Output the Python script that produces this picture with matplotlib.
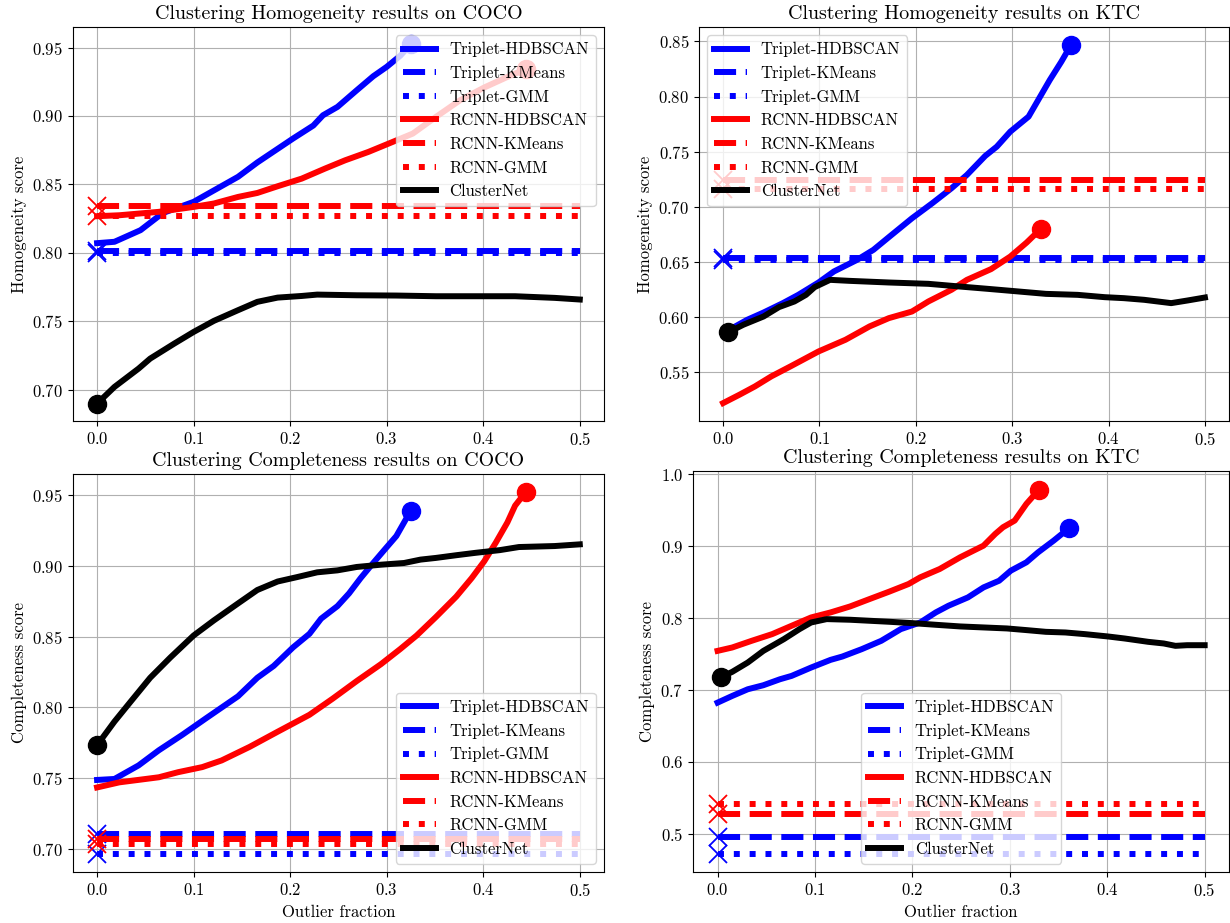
import matplotlib
matplotlib.use("Agg")
import matplotlib.pyplot as plt

plt.rcParams['font.family'] = 'serif'
plt.rcParams['font.serif'] = ['cmr10']
plt.rcParams['axes.formatter.use_mathtext'] = True
plt.rcParams['font.size'] = 12
plt.rcParams['axes.titlesize'] = 14.4
plt.rcParams['mathtext.fontset'] = 'cm'

labels = ['Triplet-HDBSCAN', 'Triplet-KMeans', 'Triplet-GMM',
          'RCNN-HDBSCAN', 'RCNN-KMeans', 'RCNN-GMM', 'ClusterNet']

# ---- Homogeneity, COCO
coco_h_trip_x = [0.0, 0.018, 0.045, 0.068, 0.1, 0.146, 0.166, 0.203, 0.224, 0.234, 0.249,
                 0.269, 0.286, 0.30, 0.314, 0.325]
coco_h_trip = [0.807, 0.808, 0.8165, 0.829, 0.8372, 0.8555, 0.866, 0.8835, 0.893, 0.9005, 0.9066,
               0.9188, 0.929, 0.9359, 0.944, 0.9524]
coco_h_rcnn_x = [0.0, 0.023, 0.064, 0.1, 0.121, 0.146, 0.166, 0.187, 0.212, 0.236, 0.257, 0.281,
                 0.302, 0.327, 0.351, 0.376, 0.401, 0.429, 0.444]
coco_h_rcnn = [0.8267, 0.8274, 0.8299, 0.8335, 0.836, 0.8408, 0.8437, 0.8486, 0.8542, 0.8615, 0.8676,
               0.8737, 0.8798, 0.8871, 0.8993, 0.9115, 0.9208, 0.9298, 0.9342]
coco_h_cnet_x = [0.0, 0.018, 0.043, 0.055, 0.08, 0.1, 0.121, 0.146, 0.166, 0.187, 0.212, 0.228,
                 0.269, 0.31, 0.351, 0.392, 0.433, 0.474, 0.5]
coco_h_cnet = [0.6897, 0.7019, 0.7153, 0.7226, 0.7336, 0.7421, 0.7502, 0.758, 0.7641, 0.7672, 0.7684,
               0.7694, 0.7689, 0.7687, 0.7682, 0.7682, 0.7682, 0.767, 0.7658]
coco_h_flat = [0.8012, 0.7995, 0.8340, 0.8265]  # trip-km, trip-gmm, rcnn-km, rcnn-gmm

# ---- Homogeneity, KTC
ktc_h_trip_x = [0.005, 0.025, 0.042, 0.062, 0.078, 0.099, 0.115, 0.139, 0.156, 0.172, 0.196, 0.217,
                0.237, 0.253, 0.272, 0.284, 0.298, 0.317, 0.327, 0.339, 0.351, 0.361]
ktc_h_trip = [0.5880, 0.5977, 0.6043, 0.6128, 0.6203, 0.6315, 0.6415, 0.652, 0.6611, 0.6726, 0.6897,
              0.7033, 0.7169, 0.729, 0.7462, 0.7546, 0.7682, 0.7818, 0.7969, 0.815, 0.8316, 0.8467]
ktc_h_rcnn_x = [0.0, 0.017, 0.033, 0.05, 0.07, 0.099, 0.127, 0.152, 0.172, 0.196, 0.213, 0.237,
                0.253, 0.278, 0.298, 0.315, 0.33]
ktc_h_rcnn = [0.5222, 0.5298, 0.5373, 0.5464, 0.5555, 0.569, 0.5796, 0.5917, 0.5992, 0.6052, 0.6143,
              0.6249, 0.6339, 0.6436, 0.655, 0.6677, 0.6804]
ktc_h_cnet_x = [0.005, 0.021, 0.042, 0.058, 0.074, 0.086, 0.095, 0.111, 0.131, 0.172, 0.213, 0.245,
                0.274, 0.294, 0.335, 0.368, 0.396, 0.416, 0.437, 0.465, 0.482, 0.5]
ktc_h_cnet = [0.5862, 0.5932, 0.6007, 0.6092, 0.6143, 0.6203, 0.6273, 0.6339, 0.633, 0.6315, 0.6303,
              0.6279, 0.6258, 0.6243, 0.6212, 0.6203, 0.6182, 0.6173, 0.6158, 0.6128, 0.6152, 0.6179]
ktc_h_flat = [0.6541, 0.6515, 0.7245, 0.7160]

# ---- Completeness, COCO
coco_c_trip_x = [0.0, 0.018, 0.043, 0.064, 0.088, 0.113, 0.146, 0.166, 0.183, 0.203, 0.22, 0.232,
                 0.249, 0.261, 0.273, 0.286, 0.298, 0.31, 0.318, 0.325]
coco_c_trip = [0.7487, 0.7494, 0.759, 0.7697, 0.7805, 0.7924, 0.8079, 0.821, 0.8294, 0.8425, 0.8521,
               0.8628, 0.8717, 0.8807, 0.8915, 0.9022, 0.9118, 0.9213, 0.9309, 0.9393]
coco_c_rcnn_x = [0.0, 0.023, 0.064, 0.084, 0.109, 0.129, 0.158, 0.187, 0.22, 0.244, 0.269, 0.294,
                 0.314, 0.331, 0.351, 0.372, 0.388, 0.401, 0.413, 0.425, 0.433, 0.444]
coco_c_rcnn = [0.7434, 0.747, 0.7506, 0.7542, 0.7578, 0.7625, 0.7721, 0.7828, 0.7948, 0.8062, 0.8187,
               0.8306, 0.8413, 0.8509, 0.864, 0.8784, 0.8915, 0.9034, 0.9166, 0.9309, 0.9428, 0.9524]
coco_c_cnet_x = [0.0, 0.018, 0.035, 0.055, 0.076, 0.1, 0.121, 0.146, 0.166, 0.187, 0.207, 0.228,
                 0.249, 0.269, 0.294, 0.318, 0.335, 0.351, 0.372, 0.392, 0.417, 0.437, 0.474, 0.5]
coco_c_cnet = [0.7733, 0.79, 0.8043, 0.821, 0.8354, 0.8509, 0.8616, 0.8736, 0.8831, 0.8891, 0.8922,
               0.8956, 0.897, 0.8994, 0.901, 0.9022, 0.9046, 0.9058, 0.9077, 0.9094, 0.9113, 0.9135,
               0.9142, 0.9154]
coco_c_flat = [0.7105, 0.6964, 0.7069, 0.7031]

# ---- Completeness, KTC
ktc_c_trip_x = [0.0, 0.015, 0.031, 0.047, 0.064, 0.076, 0.096, 0.116, 0.128, 0.148, 0.168, 0.188,
                0.208, 0.224, 0.237, 0.257, 0.273, 0.289, 0.301, 0.317, 0.329, 0.345, 0.361]
ktc_c_trip = [0.6826, 0.6919, 0.7012, 0.7068, 0.7151, 0.7198, 0.7314, 0.7421, 0.7467, 0.757, 0.7686,
              0.7848, 0.7941, 0.8081, 0.8174, 0.829, 0.8429, 0.8522, 0.8662, 0.8778, 0.8917, 0.908,
              0.9256]
ktc_c_rcnn_x = [0.0, 0.015, 0.035, 0.056, 0.072, 0.096, 0.116, 0.136, 0.156, 0.176, 0.196, 0.208,
                0.228, 0.249, 0.273, 0.285, 0.293, 0.305, 0.317, 0.33]
ktc_c_rcnn = [0.7546, 0.7593, 0.7686, 0.7779, 0.7872, 0.8011, 0.8081, 0.8164, 0.8267, 0.8369, 0.8476,
              0.8569, 0.8685, 0.8848, 0.901, 0.9173, 0.9266, 0.9359, 0.9591, 0.9791]
ktc_c_cnet_x = [0.004, 0.015, 0.031, 0.047, 0.068, 0.084, 0.096, 0.112, 0.136, 0.156, 0.176, 0.2,
                0.224, 0.249, 0.273, 0.297, 0.317, 0.337, 0.357, 0.377, 0.401, 0.418, 0.442, 0.458,
                0.47, 0.482, 0.5]
ktc_c_cnet = [0.7184, 0.7254, 0.7384, 0.7546, 0.7709, 0.7848, 0.7941, 0.7988, 0.7979, 0.7965, 0.7951,
              0.7932, 0.7909, 0.7886, 0.7872, 0.7858, 0.7835, 0.7811, 0.7802, 0.7779, 0.7746, 0.7718,
              0.7672, 0.7649, 0.7616, 0.7625, 0.7625]
ktc_c_flat = [0.4958, 0.4726, 0.5283, 0.5418]

LW = 4.3
MS = 13


def panel(ax, trip_x, trip, rcnn_x, rcnn, cnet_x, cnet, flat, title, ylabel, xlabel, ylim, legend_loc):
    x_flat = [0.0, 0.5]
    ax.plot(trip_x, trip, color='blue', lw=LW, label=labels[0])
    ax.plot(trip_x[-1], trip[-1], 'o', color='blue', ms=MS)
    ax.plot(x_flat, [flat[0]] * 2, color='blue', ls='--', lw=LW, label=labels[1])
    ax.plot(0.0, flat[0], 'x', color='blue', ms=MS, mew=1.3)
    ax.plot(x_flat, [flat[1]] * 2, color='blue', ls=':', lw=LW, label=labels[2])
    ax.plot(0.0, flat[1], 'x', color='blue', ms=MS, mew=1.3)
    ax.plot(rcnn_x, rcnn, color='red', lw=LW, label=labels[3])
    ax.plot(rcnn_x[-1], rcnn[-1], 'o', color='red', ms=MS)
    ax.plot(x_flat, [flat[2]] * 2, color='red', ls='--', lw=LW, label=labels[4])
    ax.plot(0.0, flat[2], 'x', color='red', ms=MS, mew=1.3)
    ax.plot(x_flat, [flat[3]] * 2, color='red', ls=':', lw=LW, label=labels[5])
    ax.plot(0.0, flat[3], 'x', color='red', ms=MS, mew=1.3)
    ax.plot(cnet_x, cnet, color='black', lw=LW, label=labels[6])
    ax.plot(cnet_x[0], cnet[0], 'o', color='black', ms=MS)
    ax.set_title(title)
    ax.set_ylabel(ylabel)
    if xlabel:
        ax.set_xlabel(xlabel)
    ax.set_xlim(-0.025, 0.525)
    ax.set_ylim(*ylim)
    ax.set_xticks([0.0, 0.1, 0.2, 0.3, 0.4, 0.5])
    ax.grid(True)
    ax.legend(loc=legend_loc)


fig = plt.figure(figsize=(12.3, 9.23), dpi=100)
ax1 = fig.add_axes([0.0593, 0.5439, 0.4317, 0.4268])
ax2 = fig.add_axes([0.5683, 0.5439, 0.4309, 0.4268])
ax3 = fig.add_axes([0.0593, 0.0553, 0.4317, 0.4312])
ax4 = fig.add_axes([0.5636, 0.0553, 0.4356, 0.4342])

panel(ax1, coco_h_trip_x, coco_h_trip, coco_h_rcnn_x, coco_h_rcnn, coco_h_cnet_x, coco_h_cnet,
      coco_h_flat, 'Clustering Homogeneity results on COCO', 'Homogeneity score', None,
      (0.677, 0.965), 'upper right')
panel(ax2, ktc_h_trip_x, ktc_h_trip, ktc_h_rcnn_x, ktc_h_rcnn, ktc_h_cnet_x, ktc_h_cnet,
      ktc_h_flat, 'Clustering Homogeneity results on KTC', 'Homogeneity score', None,
      (0.506, 0.863), 'upper left')
panel(ax3, coco_c_trip_x, coco_c_trip, coco_c_rcnn_x, coco_c_rcnn, coco_c_cnet_x, coco_c_cnet,
      coco_c_flat, 'Clustering Completeness results on COCO', 'Completeness score', 'Outlier fraction',
      (0.6836, 0.9652), 'lower right')
panel(ax4, ktc_c_trip_x, ktc_c_trip, ktc_c_rcnn_x, ktc_c_rcnn, ktc_c_cnet_x, ktc_c_cnet,
      ktc_c_flat, 'Clustering Completeness results on KTC', 'Completeness score', 'Outlier fraction',
      (0.447, 1.0046), 'lower center')

fig.savefig('out.png', dpi=100)
